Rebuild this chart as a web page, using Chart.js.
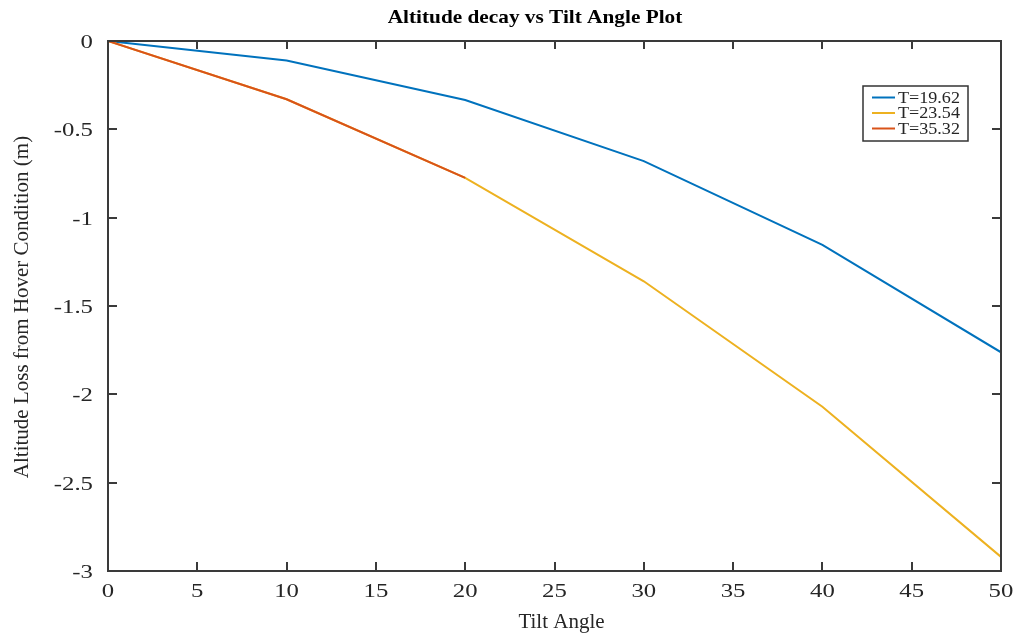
<!DOCTYPE html>
<html>
<head>
<meta charset="utf-8">
<script src="https://cdn.jsdelivr.net/npm/chart.js@4.4.1/dist/chart.umd.min.js"></script>
<style>
  html, body { margin: 0; padding: 0; background: #fff; }
  #wrap { width: 1021px; height: 634px; position: relative; }
</style>
</head>
<body>
<div id="wrap"><canvas id="c"></canvas></div>
<script>
// Tilt angle (deg) and altitude loss (m) for each thrust setting
const anglesT19 = [0, 10, 20, 30, 40, 50];
const lossT19   = [0, -0.11, -0.334, -0.68, -1.154, -1.762];
const anglesT23 = [0, 10, 20, 30, 40, 50];
const lossT23   = [0, -0.33, -0.775, -1.36, -2.07, -2.92];
const anglesT35 = [0, 10, 20];
const lossT35   = [0, -0.33, -0.775];
const seriesLabels = ['T=19.62', 'T=23.54', 'T=35.32'];
const seriesColors = ['#0072BD', '#EDB120', '#D95319'];
const chartTitle = 'Altitude decay vs Tilt Angle Plot';
const xTitle = 'Tilt Angle';
const yTitle = 'Altitude Loss from Hover Condition (m)';

const pts = (xs, ys) => xs.map((x, i) => ({ x, y: ys[i] }));
const SERIF = '"Liberation Serif", "Times New Roman", serif';
const INK = '#262626';

// draw text with a horizontal stretch factor
function stretchText(ctx, text, x, y, align, sx) {
  ctx.save();
  ctx.translate(x, y);
  ctx.scale(sx, 1);
  ctx.textAlign = align;
  ctx.fillText(text, 0, 0);
  ctx.restore();
}
const fmt = v => String(Number(v.toFixed(1)));

// MATLAB-style box with inward ticks, tick labels, titles and an inset legend
const boxAxes = {
  id: 'boxAxes',
  afterDatasetsDraw(chart) {
    const { ctx, chartArea: a, scales } = chart;
    const sx = scales.x, sy = scales.y;
    ctx.save();

    // frame and inward ticks
    ctx.strokeStyle = '#3a3a3a';
    ctx.lineWidth = 2;
    ctx.strokeRect(a.left, a.top, a.right - a.left, a.bottom - a.top);
    ctx.beginPath();
    sx.ticks.forEach(t => {
      const px = Math.round(sx.getPixelForValue(t.value));
      ctx.moveTo(px, a.bottom); ctx.lineTo(px, a.bottom - 9);
      ctx.moveTo(px, a.top); ctx.lineTo(px, a.top + 8);
    });
    sy.ticks.forEach(t => {
      const py = Math.round(sy.getPixelForValue(t.value));
      ctx.moveTo(a.left, py); ctx.lineTo(a.left + 9, py);
      ctx.moveTo(a.right, py); ctx.lineTo(a.right - 9, py);
    });
    ctx.stroke();

    // tick labels
    ctx.fillStyle = INK;
    ctx.font = '19.5px ' + SERIF;
    ctx.textBaseline = 'middle';
    sx.ticks.forEach(t => {
      stretchText(ctx, fmt(t.value), sx.getPixelForValue(t.value), a.bottom + 21, 'center', 1.27);
    });
    sy.ticks.forEach(t => {
      stretchText(ctx, fmt(t.value), a.left - 15, sy.getPixelForValue(t.value) + 2, 'right', 1.27);
    });

    // chart title
    ctx.fillStyle = '#000';
    ctx.font = 'bold 19px ' + SERIF;
    stretchText(ctx, chartTitle, 535, 18, 'center', 1.12);

    // axis titles
    ctx.fillStyle = INK;
    ctx.font = '21px ' + SERIF;
    stretchText(ctx, xTitle, (a.left + a.right) / 2 + 7, a.bottom + 51, 'center', 1.0);
    ctx.save();
    ctx.translate(22, (a.top + a.bottom) / 2 + 1);
    ctx.rotate(-Math.PI / 2);
    ctx.textAlign = 'center';
    ctx.fillText(yTitle, 0, 0);
    ctx.restore();

    // legend box
    const lx = a.right - 138, ly = a.top + 45, lw = 105, lh = 55;
    ctx.fillStyle = '#fff';
    ctx.fillRect(lx, ly, lw, lh);
    ctx.strokeStyle = '#333';
    ctx.lineWidth = 1.5;
    ctx.strokeRect(lx, ly, lw, lh);
    ctx.font = '16px ' + SERIF;
    seriesLabels.forEach((lab, i) => {
      const yy = ly + 11.5 + i * 15.5;
      ctx.strokeStyle = seriesColors[i];
      ctx.lineWidth = 2;
      ctx.beginPath();
      ctx.moveTo(lx + 9, yy); ctx.lineTo(lx + 32, yy);
      ctx.stroke();
      ctx.fillStyle = INK;
      stretchText(ctx, lab, lx + 35, yy + 1, 'left', 1.13);
    });
    ctx.restore();
  }
};

new Chart(document.getElementById('c'), {
  type: 'line',
  data: {
    datasets: [
      { label: seriesLabels[0], data: pts(anglesT19, lossT19), borderColor: seriesColors[0], order: 2 },
      { label: seriesLabels[1], data: pts(anglesT23, lossT23), borderColor: seriesColors[1], order: 1 },
      { label: seriesLabels[2], data: pts(anglesT35, lossT35), borderColor: seriesColors[2], order: 0 }
    ]
  },
  options: {
    responsive: true,
    maintainAspectRatio: false,
    animation: false,
    layout: { padding: { left: 0, right: 20, top: 41, bottom: 0 } },
    elements: {
      line: { borderWidth: 2, tension: 0, fill: false },
      point: { radius: 0, hoverRadius: 0 }
    },
    plugins: {
      legend: { display: false },
      tooltip: { enabled: false },
      title: { display: false }
    },
    scales: {
      x: {
        type: 'linear',
        min: 0, max: 50,
        grid: { display: false, drawTicks: false },
        border: { display: false },
        ticks: { stepSize: 5, display: false },
        afterFit(s) { s.height = 63; }
      },
      y: {
        type: 'linear',
        min: -3, max: 0,
        grid: { display: false, drawTicks: false },
        border: { display: false },
        ticks: { stepSize: 0.5, display: false },
        afterFit(s) { s.width = 108; }
      }
    }
  },
  plugins: [boxAxes]
});
</script>
</body>
</html>
